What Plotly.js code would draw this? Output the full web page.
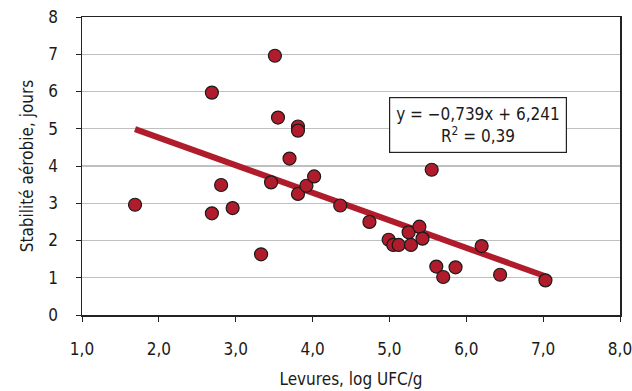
<!DOCTYPE html>
<html>
<head>
<meta charset="utf-8">
<script src="https://cdn.plot.ly/plotly-3.0.1.min.js"></script>
<style>html,body{margin:0;padding:0;background:#fff;}#chart{width:632px;height:391px;}</style>
</head>
<body>
<div id="chart"></div>
<script>
// Data
const levures = [1.69, 2.69, 2.69, 2.81, 2.96, 3.33, 3.46, 3.51, 3.55, 3.70, 3.81, 3.81, 3.81, 3.92, 4.02,
                 4.36, 4.74, 4.99, 5.05, 5.12, 5.25, 5.28, 5.39, 5.43, 5.55, 5.61, 5.70, 5.86, 6.20, 6.44, 7.03];
const stabilite = [2.96, 5.97, 2.73, 3.49, 2.87, 1.63, 3.56, 6.96, 5.30, 4.20, 5.06, 4.95, 3.25, 3.47, 3.72,
                   2.94, 2.50, 2.02, 1.88, 1.88, 2.22, 1.88, 2.37, 2.05, 3.90, 1.30, 1.02, 1.28, 1.85, 1.08, 0.93];
const trendX = [1.69, 7.03];
const trendY = [4.99, 1.04];
const xTickVals = [1, 2, 3, 4, 5, 6, 7, 8];
const xTickText = ["1,0", "2,0", "3,0", "4,0", "5,0", "6,0", "7,0", "8,0"];
const equationText = "y = −0,739x + 6,241<br>R<sup>2</sup> = 0,39";

const FONT = "'DejaVu Sans Condensed', 'Liberation Sans Narrow', sans-serif";
const RED = "#b01c2b";
const INK = "#1a1a1a";

const traces = [
  {
    x: trendX, y: trendY, type: "scatter", mode: "lines",
    line: {color: RED, width: 6}, hoverinfo: "skip", showlegend: false
  },
  {
    x: levures, y: stabilite, type: "scatter", mode: "markers",
    marker: {color: RED, size: 13, line: {color: INK, width: 1.2}},
    showlegend: false
  }
];

const layout = {
  width: 632, height: 391,
  margin: {l: 82, r: 12, t: 17, b: 76},
  paper_bgcolor: "#fff", plot_bgcolor: "#fff",
  font: {family: FONT, size: 16, color: INK},
  xaxis: {
    range: [1, 8], tickvals: xTickVals, ticktext: xTickText,
    showgrid: false, zeroline: false,
    showline: true, linecolor: "#222", linewidth: 1.5, mirror: true,
    ticks: "outside", ticklen: 5, tickcolor: "#222", tickwidth: 1,
    ticklabelstandoff: 13, ticklabeloverflow: "allow",
    tickfont: {family: FONT, size: 17, color: INK},
    title: {text: "Levures, log UFC/g", font: {family: FONT, size: 17, color: INK}, standoff: 15}
  },
  yaxis: {
    range: [0, 8], dtick: 1, tick0: 0,
    showgrid: true, gridcolor: "#c0c0c0", gridwidth: 1.2, zeroline: false,
    showline: true, linecolor: "#222", linewidth: 1.5, mirror: true,
    ticks: "outside", ticklen: 5, tickcolor: "#222", tickwidth: 1,
    ticklabelstandoff: 14,
    tickfont: {family: FONT, size: 17, color: INK},
    title: {text: "Stabilité aérobie, jours", font: {family: FONT, size: 17, color: INK}, standoff: 10}
  },
  annotations: [{
    x: 0.736, y: 0.6365, xref: "paper", yref: "paper",
    xanchor: "center", yanchor: "middle",
    text: equationText, showarrow: false, align: "center",
    font: {family: FONT, size: 17, color: INK},
    bgcolor: "#fff", bordercolor: "#222", borderwidth: 1.2, borderpad: 6
  }]
};

Plotly.newPlot("chart", traces, layout, {displayModeBar: false, staticPlot: true});
</script>
</body>
</html>
